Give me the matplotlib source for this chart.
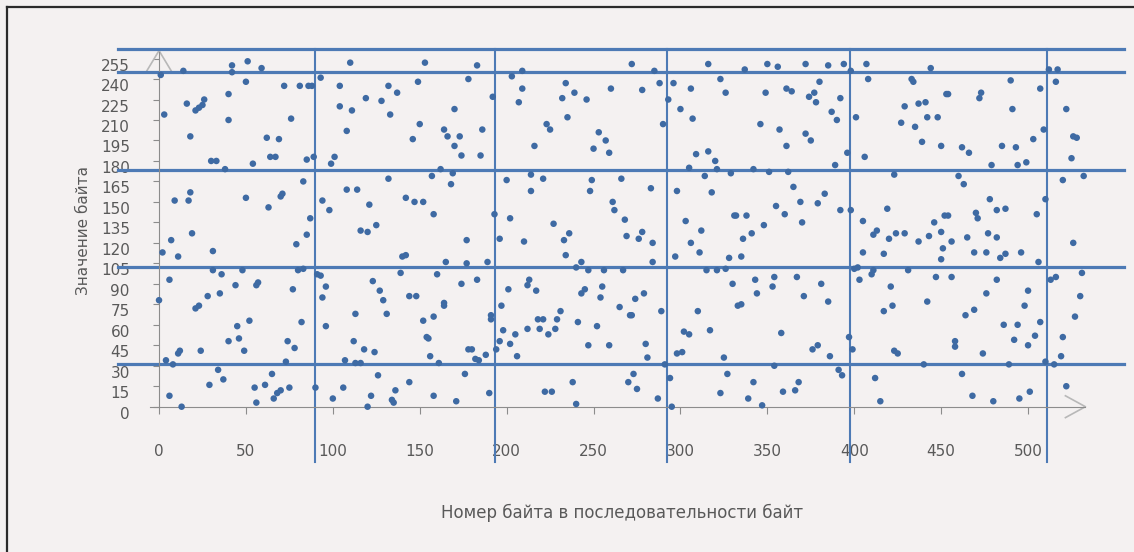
import matplotlib
matplotlib.use('Agg')
import matplotlib.pyplot as plt
from matplotlib.lines import Line2D

# номер байта и его значение
byte_index = [
    0, 1, 2, 3, 4, 6, 6, 7, 8, 9, 11, 11, 12, 13, 14, 16, 17, 18, 18, 19, 21, 21, 23, 23, 24, 25, 26, 28, 29, 30,
    31, 31, 33, 34, 35, 36, 37, 38, 40, 40, 40, 42, 42, 44, 45, 46, 48, 49, 50, 50, 51, 52, 54, 55, 56, 56, 57, 59,
    61, 62, 63, 64, 65, 66, 67, 68, 69, 70, 70, 71, 72, 73, 74, 75, 76, 77, 78, 79, 80, 81, 82, 83, 83, 85, 85, 86,
    87, 88, 89, 90, 91, 93, 93, 94, 94, 96, 96, 98, 99, 100, 101, 104, 104, 106, 107, 108, 108, 110, 111, 112, 113,
    113, 114, 116, 116, 118, 119, 121, 120, 122, 120, 123, 124, 125, 126, 127, 128, 129, 131, 132, 132, 133, 134,
    135, 136, 137,
    139, 140, 142, 142, 144, 144, 147, 148, 149, 150, 146, 152, 152, 153, 154, 155, 156, 157, 158, 158, 158, 160,
    161, 162, 164, 164, 164, 165, 166, 168, 169, 170, 170, 171, 173, 174, 174, 176, 177, 177, 178, 178,
    180, 182, 183, 183, 184, 185, 186, 188, 189, 190, 191, 191, 192, 193, 194, 196, 196, 197, 198, 200, 201, 202,
    202, 203, 205, 206, 207, 209, 209, 210, 212, 212, 213, 214, 214, 216, 217, 218, 219, 221, 221, 222, 223, 225,
    224, 226, 227, 228, 229, 231, 232, 233, 234, 234, 235, 236, 238, 239, 240, 240, 241, 243, 243, 245, 246, 247,
    247, 248, 249, 250, 252, 253, 254, 255, 256, 257, 259, 259, 260, 261, 262, 265, 266, 267, 268, 269, 270, 271,
    272, 272, 273, 274, 275, 276, 278, 278, 279, 280, 281, 283, 284, 284, 285, 287, 288, 289, 290, 291, 293, 294,
    295, 296, 297, 298, 298, 300, 301, 302, 303, 305, 305, 306, 306, 307, 309, 310, 311, 312, 314, 315, 316, 316,
    317, 318, 320, 321, 321, 323, 323, 325, 326, 326, 327, 328, 329, 330, 331, 332, 333, 335, 335, 336, 337, 338,
    339, 341, 342, 342, 343, 344, 346, 347, 348, 349, 350, 351, 353, 354, 354, 355, 356, 357, 358, 359, 360, 361, 361,
    362, 364, 365, 366, 367, 368, 369, 370, 371, 372, 372, 375, 374, 376, 377, 378, 379, 379, 380, 381, 383, 385,
    385, 386, 387, 389, 390, 391, 392, 392, 393, 394, 396, 397, 398, 398, 399, 400, 401, 402, 403, 405, 405, 406,
    407, 408, 410, 411, 411, 412, 413, 415, 417, 417, 419, 420, 421, 422, 423, 423, 424, 425, 427, 429, 429, 431,
    433, 434, 435, 437, 437, 439, 440, 441, 442, 442, 443, 444, 446, 447, 448, 450, 450, 450, 451, 452, 453,
    454, 454, 456, 456, 458, 458, 460, 462, 462, 463, 464, 465, 466, 468, 469, 469, 470, 471, 472, 473, 474, 476,
    476, 477, 478, 479, 480, 482, 482, 482, 484, 485, 486, 487, 487, 489, 490, 491, 492, 493, 494, 494, 495, 496,
    498, 499, 500, 500, 501, 503, 504, 505, 506, 507, 507, 509, 510, 510, 512, 513, 515, 516, 516, 517, 519, 520,
    520, 522, 522, 525, 526, 526, 527, 528, 530, 531, 532,
]
byte_value = [
    78, 243, 113, 214, 34, 93, 8, 122, 31, 151, 110, 39, 41, 0, 246, 222, 151, 198, 157, 127, 217, 72, 74, 219, 41,
    221, 225, 81, 16, 180,
    114, 100, 180, 27, 83, 97, 20, 174, 48, 229, 210, 245, 250, 89, 59, 50, 100, 41, 238, 153, 253, 63, 178, 14, 3,
    89, 91, 248,
    16, 197, 146, 183, 24, 6, 183, 10, 196, 12, 154, 156, 235, 33, 48, 14, 211, 86, 43, 119, 100, 235, 62, 165, 101,
    181, 126, 235,
    138, 235, 183, 14, 97, 241, 96, 151, 80, 59, 88, 144, 178, 6, 183, 235, 220, 14, 34, 202, 159, 252, 217, 48, 32,
    68, 159, 32, 129, 42, 226, 148, 0, 8, 128, 92, 40, 133, 23, 85, 224, 78, 68, 235, 167, 214, 5,
    3, 12, 230,
    98, 110, 111, 153, 81, 18, 150, 81, 238, 207, 196, 150, 63, 252, 51, 50, 37, 169, 141, 8, 66, 97,
    32, 174, 203, 76, 74, 106, 198, 163, 171, 191, 218, 4, 198, 90, 184, 24, 122, 105, 240, 42,
    42, 35, 93, 250, 34, 184, 203, 38, 106, 10, 64, 67, 227, 141, 42, 48, 123, 74, 56, 166, 86, 46,
    138, 242, 53, 37, 223, 233, 246, 121, 89, 57, 93, 170, 158, 191, 85, 64, 57, 64, 167, 11, 207, 203,
    53, 11, 134, 57, 64, 70, 226, 122, 111, 237, 212, 127, 18, 230, 2, 102, 62, 83, 106, 86, 225, 100,
    45, 158, 166, 189, 59, 201, 80, 88, 100, 195, 186, 45, 233, 150, 144, 73, 167, 100, 137, 125, 18, 67,
    251, 67, 24, 79, 13, 123, 232, 128, 83, 46, 36, 160, 106, 120, 246, 6, 237, 70, 207, 31, 225, 21,
    0, 237, 110, 39, 158, 218, 40, 55, 136, 53, 175, 233, 120, 211, 185, 70, 113, 129, 169, 100, 187, 251,
    56, 157, 180, 174, 100, 240, 10, 36, 101, 230, 24, 109, 171, 90, 140, 140, 74, 75, 110, 123, 247, 140,
    6, 127, 174, 18, 93, 83, 207, 1, 133, 230, 251, 172, 88, 95, 30, 147, 249, 203, 54, 11, 141, 191, 233,
    172, 231, 161, 12, 95, 18, 150, 135, 81, 251, 200, 195, 227, 42, 230, 223, 149, 45, 238, 90, 156, 250,
    77, 37, 216, 177, 210, 27, 144, 226, 23, 251, 186, 51, 246, 144, 42, 101, 212, 102, 93, 136, 113, 183,
    251, 240, 97, 126, 100, 21, 129, 4, 70, 112, 145, 123, 88, 74, 170, 41, 127, 39, 208, 127, 220, 100,
    240, 238, 205, 121, 222, 194, 31, 223, 77, 212, 125, 248, 135, 95, 212, 128, 108, 191, 116, 140, 229,
    229, 140, 121, 95, 48, 44, 169, 24, 190, 163, 67, 124, 186, 8, 71, 113, 142, 138, 226, 230, 39, 83,
    113, 127, 152, 177, 4, 124, 93, 144, 109, 191, 60, 145, 112, 31, 239, 218, 49, 190, 60, 177, 6, 113,
    74, 179, 45, 85, 11, 196, 52, 141, 106, 62, 233, 203, 152, 33, 247, 93, 31, 95, 238, 247, 37, 166,
    51, 15, 218, 182, 120, 198, 66, 197, 81, 98, 169,
]

# ручная разметка: горизонтальные и вертикальные линии
h_levels = [31.5, 102, 173.5, 245, 262]
v_levels = [89.5, 193.3, 292, 397.6, 510.7]

y_ticks = list(range(0, 256, 15))
x_ticks = list(range(0, 501, 50))

W, H = 1134, 552
fig = plt.figure(figsize=(W / 100, H / 100), dpi=100, facecolor='#f4f1f1')
ax = fig.add_axes([118 / W, 90 / H, (1124 - 118) / W, 413 / H])
ax.set_facecolor('none')
ax.set_xlim(-23.6, 555.2)
ax.set_ylim(-40.5, 262)

gray = '#8c8c8c'
txt = '#595959'
line_c = '#4d7ab5'

for s in ['top', 'right']:
    ax.spines[s].set_visible(False)
ax.spines['left'].set_position(('data', 0))
ax.spines['bottom'].set_position(('data', 0))
ax.spines['left'].set_bounds(0, 260)
ax.spines['bottom'].set_bounds(-5, 533)
ax.spines['left'].set_color(gray)
ax.spines['bottom'].set_color(gray)

ax.set_xticks(x_ticks)
ax.set_yticks(y_ticks)
ax.set_xticklabels([str(v) for v in x_ticks])
ax.set_yticklabels([str(v) for v in y_ticks])
ax.tick_params(axis='x', length=5, color=gray, labelcolor=txt, labelsize=11, pad=22)
ax.tick_params(axis='y', length=4, color=gray, labelcolor=txt, labelsize=11, pad=17)
for t in ax.yaxis.get_major_ticks():
    t.label1.set_verticalalignment('top')

# стрелки осей
ax.plot([-7.3, 0, 7.3], [245.4, 260.8, 245.4], color='#b8b8b8', lw=1.2, clip_on=False)
ax.plot([521.5, 533, 521.5], [8, 0, -8], color='#b8b8b8', lw=1.2, clip_on=False)

for yv in h_levels:
    ax.plot([-23.6, 555.2], [yv, yv], color=line_c, lw=2.3, clip_on=False, zorder=2)
for xv in v_levels:
    ax.plot([xv, xv], [-40.5, 262], color=line_c, lw=1.5, clip_on=False, zorder=2)

ax.scatter(byte_index, byte_value, s=22, color='#3e6aa3', edgecolors='none', zorder=3, clip_on=False)

fig.text(622 / W, 1 - 513 / H, 'Номер байта в последовательности байт', ha='center', va='center',
         fontsize=12, color=txt)
fig.text(83 / W, 1 - 230 / H, 'Значение байта', ha='center', va='center', rotation=90,
         fontsize=11, color=txt)

# рамка слева и сверху
fig.add_artist(Line2D([7 / W, 1], [1 - 7 / H, 1 - 7 / H], color='#2b2b2b', lw=1.6))
fig.add_artist(Line2D([7 / W, 7 / W], [0, 1 - 7 / H], color='#2b2b2b', lw=1.6))

fig.savefig('out.png', dpi=100, facecolor=fig.get_facecolor())
